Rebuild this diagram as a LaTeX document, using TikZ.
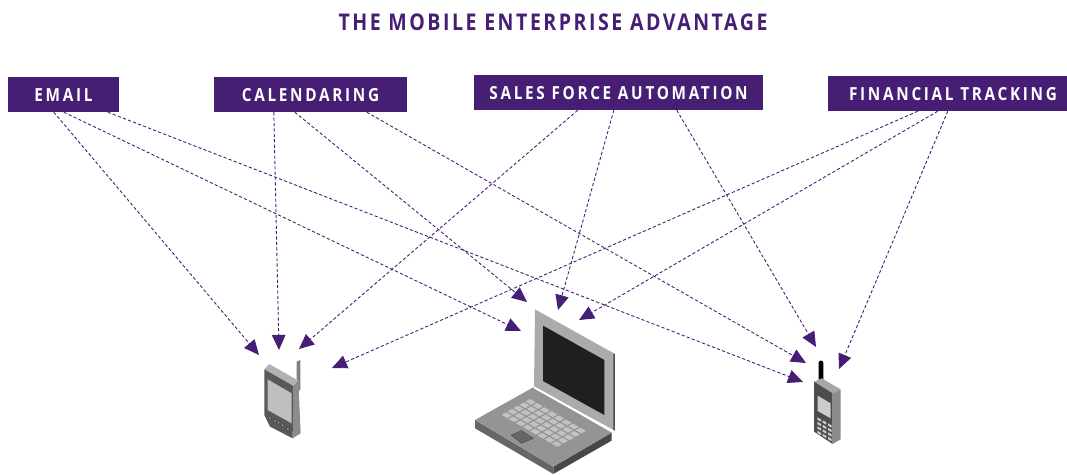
\documentclass[tikz,border=0pt]{standalone}
\usepackage{fontspec}
\setmainfont{Open Sans}
\newfontfamily\titlefont[LetterSpace=11,FakeStretch=0.85]{Open Sans}
\newfontfamily\servicefont[LetterSpace=15,FakeStretch=0.85]{Open Sans}
\usetikzlibrary{arrows.meta, positioning}
\definecolor{violet}{HTML}{461F75}

\begin{document}
\begin{tikzpicture}[x=1pt, y=-1pt, node distance=100pt,
  heading/.style={text=violet, font=\titlefont\bfseries\fontsize{23}{23}\selectfont},
  service/.style={rectangle, minimum height=35pt, inner sep=0pt, text=white, fill=violet, text height=13pt, text depth=0pt, font=\servicefont\bfseries\fontsize{18}{18}\selectfont},
  arrow/.style={draw=violet, line width=0.9pt, dash pattern=on 3.2pt off 2.2pt, -{Triangle[length=15pt, width=13.5pt]}}]

  \useasboundingbox (0,0) rectangle (1067,474);

  % Nodes
  \node (title) [heading] at (553,22) {THE MOBILE ENTERPRISE ADVANTAGE};
  \node (email) [service, minimum width=111pt] at (63.5,94.5) {EMAIL};
  \node (calendaring) [service, minimum width=193pt, right of=email, xshift=147pt] {CALENDARING};
  \node (sales) [service, minimum width=289pt, right of=calendaring, xshift=208pt, yshift=2pt] {SALES FORCE AUTOMATION};
  \node (financial) [service, minimum width=239pt, right of=sales, xshift=229pt, yshift=-1pt] {\hspace*{11pt}FINANCIAL TRACKING};

  % Arrow ends
  \coordinate (palmA) at (259,355);
  \coordinate (palmB) at (279,350);
  \coordinate (palmC) at (299,349);
  \coordinate (palmD) at (332,368);
  \coordinate (laptopA) at (521,331);
  \coordinate (laptopB) at (527,302);
  \coordinate (laptopC) at (558,310);
  \coordinate (laptopD) at (579,320);
  \coordinate (phoneA) at (806,363);
  \coordinate (phoneB) at (803,382);
  \coordinate (phoneC) at (816,347);
  \coordinate (phoneD) at (839,369);

  % Arrows
  \draw [arrow] ([xshift=46pt]email.south west) -- (palmA);
  \draw [arrow] ([xshift=56pt]email.south west) -- (laptopA);
  \draw [arrow] ([xshift=100pt]email.south west) -- (phoneB);

  \draw [arrow] ([xshift=60pt]calendaring.south west) -- (palmB);
  \draw [arrow] ([xshift=81pt]calendaring.south west) -- (laptopB);
  \draw [arrow] ([xshift=153pt]calendaring.south west) -- (phoneA);

  \draw [arrow] ([xshift=104pt]sales.south west) -- (palmC);
  \draw [arrow] ([xshift=140pt]sales.south west) -- (laptopC);
  \draw [arrow] ([xshift=203pt]sales.south west) -- (phoneC);

  \draw [arrow] ([xshift=90pt]financial.south west) -- (palmD);
  \draw [arrow] ([xshift=110pt]financial.south west) -- (laptopD);
  \draw [arrow] ([xshift=120pt]financial.south west) -- (phoneD);

  % Palm
  \begin{scope}[shift={(230,320)}, scale=0.3333]
    \fill [color=black!50] (200,125) -- (211,120) -- (211,210) -- (200,215) -- cycle;
    \fill [color=black!30] (103,148) -- (118,132) -- (205,182) -- (190,198) -- cycle;
    \fill [color=black!45] (190,198) -- (205,182) -- (212,340) -- (188,355) -- cycle;
    \fill [color=black!65] (103,148) -- (190,198) -- (188,355) -- (120,320) -- (103,285) -- cycle;
    \fill [color=black!25] (113,178) -- (185,220) -- (185,310) -- (113,270) -- cycle;
    \foreach \x/\y in {120/293, 135/302, 146/308, 158/316, 174/326}
      \fill [color=black!35, draw=black!80] (\x,\y) circle (5);
  \end{scope}

  % Laptop
  \begin{scope}[shift={(460,280)}, scale=0.3333]
    \fill [color=black!60] (45,420) -- (280,560) -- (280,582) -- (45,445) -- cycle;
    \fill [color=black!72] (280,560) -- (455,458) -- (455,482) -- (280,582) -- cycle;
    \fill [color=black!42] (45,420) -- (220,322) -- (455,458) -- (280,560) -- cycle;
    \fill [color=black!33] (225,88) -- (465,222) -- (465,452) -- (222,322) -- cycle;
    \fill [color=black!70] (460,220) -- (465,222) -- (465,452) -- (460,450) -- cycle;
    \fill [color=black!88] (249,137) -- (433,240) -- (433,405) -- (249,303) -- cycle;
    \draw [white, line width=2pt] (222,322) -- (460,455);
    \foreach \c in {0,...,7}
      \foreach \r in {0,...,4}
        \fill [color=black!24, shift={(210,357)}, x={(21.5pt,-12.3pt)}, y={(-18pt,-10pt)}]
          (\c,\r) -- (\c+.8,\r) -- (\c+.8,\r+.75) -- (\c,\r+.75) -- cycle;
    \fill [color=black!60, draw=black!72] (153,465) -- (185,452) -- (220,475) -- (185,490) -- cycle;
  \end{scope}

  % Phone
  \begin{scope}[shift={(780,340)}, scale=0.3333]
    \fill [color=black, rounded corners=2pt] (116,125) -- (116,62) -- (130,62) -- (130,125) -- cycle;
    \fill [color=black!35] (102,125) -- (125,115) -- (182,148) -- (158,160) -- cycle;
    \fill [color=black!70] (102,125) -- (158,160) -- (158,312) -- (102,275) -- cycle;
    \fill [color=black!45] (158,160) -- (182,148) -- (182,298) -- (158,312) -- cycle;
    \fill [color=black!20] (113,167) -- (152,190) -- (152,235) -- (113,213) -- cycle;
    \foreach \c in {0,1,2}
      \foreach \r in {0,1,2,3}
        \fill [color=black!20] (112+16*\c,232+9*\c+13.5*\r) -- +(11,6) -- +(11,13) -- +(0,7) -- cycle;
  \end{scope}
\end{tikzpicture}
\end{document}
